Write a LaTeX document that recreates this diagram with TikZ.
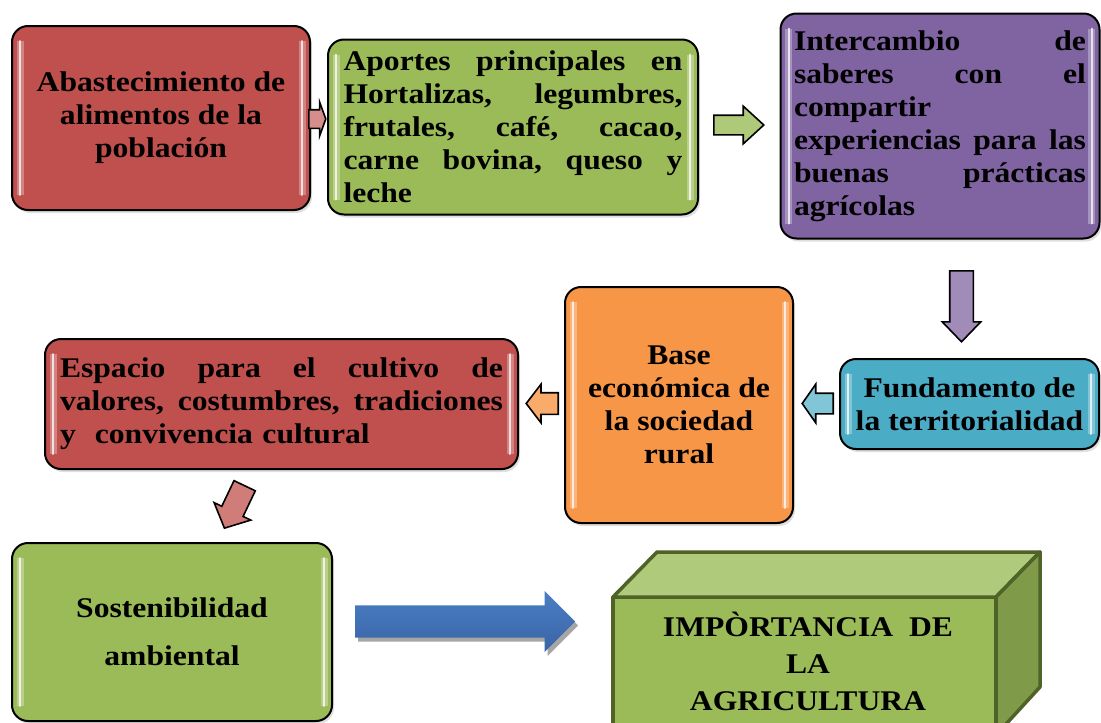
\documentclass[tikz,border=0pt]{standalone}
\usepackage{fontspec}
\setmainfont{Liberation Serif}[FakeStretch=1.11]
\usetikzlibrary{shapes.arrows,shadows}
\definecolor{cred}{HTML}{C0504D}
\definecolor{cgreen}{HTML}{9BBB59}
\definecolor{cpurple}{HTML}{8064A2}
\definecolor{ccyan}{HTML}{4BACC6}
\definecolor{corange}{HTML}{F79646}
\definecolor{cblueA}{HTML}{4A7EC4}
\definecolor{cblueB}{HTML}{3A64A6}
\definecolor{boxedge}{HTML}{4F6228}
\definecolor{boxtop}{HTML}{AECA7A}
\definecolor{boxside}{HTML}{7F9A48}
\tikzset{
  txt/.style={font=\bfseries\fontsize{28.5}{33}\selectfont},
  box/.style={draw=black, line width=2pt, rounded corners=16pt, inner sep=0pt, txt,
    drop shadow={opacity=0.25,shadow xshift=2pt,shadow yshift=-3pt}},
  blockarrow/.style={single arrow, draw=black, line width=1.6pt, inner xsep=0pt,
    single arrow head indent=0pt, anchor=tail},
}
\newcommand\boxgloss[1]{%
  \draw[white,opacity=.3,line width=7pt] ([xshift=9pt,yshift=-16pt]#1.north west) -- ([xshift=9pt,yshift=16pt]#1.south west);
  \draw[white,opacity=.3,line width=7pt] ([xshift=-9pt,yshift=-16pt]#1.north east) -- ([xshift=-9pt,yshift=16pt]#1.south east);
  \draw[white,opacity=.75,line width=2pt,line cap=round] ([xshift=9pt,yshift=-16pt]#1.north west) -- ([xshift=9pt,yshift=16pt]#1.south west);
  \draw[white,opacity=.75,line width=2pt,line cap=round] ([xshift=-9pt,yshift=-16pt]#1.north east) -- ([xshift=-9pt,yshift=16pt]#1.south east);
}
\begin{document}
\begin{tikzpicture}[x=1pt,y=-1pt]
\useasboundingbox (0,0) rectangle (1101,723);
\clip (0,0) rectangle (1101,723);
\fill[white] (0,0) rectangle (1101,723);

% boxes
\node[box, fill=cred, minimum width=298pt, minimum height=184pt, align=center] (b1) at (161,118)
  {Abastecimiento de\\alimentos de la\\población};
\node[box, fill=cgreen, minimum width=370pt, minimum height=175pt, text width=339pt, align=left] (b2) at (513,127)
  {Aportes\hfill principales\hfill en\\
   Hortalizas,\hfill legumbres,\\
   frutales,\hfill café,\hfill cacao,\\
   carne\hfill bovina,\hfill queso\hfill y\\
   leche};
\node[box, fill=cpurple, minimum width=319pt, minimum height=225pt, text width=292pt, align=left] (b3) at (940,126)
  {Intercambio\hfill de\\
   saberes\hfill con\hfill el\\
   compartir\\
   experiencias\hfill para\hfill las\\
   buenas\hfill prácticas\\
   agrícolas};
\node[box, fill=ccyan, minimum width=259pt, minimum height=90pt, align=center] (b4) at (969.5,404)
  {Fundamento de\\la territorialidad};
\node[box, fill=corange, minimum width=228pt, minimum height=236pt, align=center] (b5) at (679,405)
  {Base\\económica de\\la sociedad\\rural};
\node[box, fill=cred, minimum width=473pt, minimum height=130pt, text width=443pt, align=left] (b6) at (281.5,404)
  {Espacio\hfill para\hfill el\hfill cultivo\hfill de\\
   valores,\hfill costumbres,\hfill tradiciones\\
   y\ \ convivencia cultural};
\node[box, fill=cgreen, minimum width=320pt, minimum height=178pt, align=center,
  font=\bfseries\fontsize{28.5}{48}\selectfont] (b7) at (172,632)
  {Sostenibilidad\\ambiental};
\foreach \b in {b1,b2,b3,b4,b5,b6,b7}{\boxgloss{\b}}

% block arrows between boxes
\node[blockarrow, fill=cred!65!white, minimum height=17pt, inner ysep=8.5pt,
  single arrow head extend=7.5pt, single arrow tip angle=140] (a1) at (308,119) {};
\node[blockarrow, fill=cgreen!80!white, minimum height=50pt, inner ysep=9pt,
  single arrow head extend=9pt, single arrow tip angle=85] (a2) at (713,125) {};
\node[blockarrow, fill=cpurple!75!white, minimum height=71pt, inner ysep=11pt,
  single arrow head extend=7.5pt, single arrow tip angle=88, rotate=-90] (a3) at (961.5,270) {};
\node[blockarrow, fill=ccyan!70!white, minimum height=31pt, inner ysep=9.5pt,
  single arrow head extend=9pt, single arrow tip angle=110, rotate=180] (a4) at (834,403.5) {};
\node[blockarrow, fill=corange!80!white, minimum height=32pt, inner ysep=10pt,
  single arrow head extend=8.5pt, single arrow tip angle=105, rotate=180] (a5) at (559,403.5) {};
\node[blockarrow, fill=cred!75!white, minimum height=47pt, inner ysep=11pt,
  single arrow head extend=8.5pt, single arrow tip angle=95, rotate=-115.5] (a6) at (245,485) {};

% big blue arrow
\node[single arrow, anchor=tail, inner xsep=0pt, inner ysep=16pt, single arrow head indent=0pt, minimum height=220pt,
  single arrow head extend=14.5pt, single arrow tip angle=90,
  top color=cblueA, bottom color=cblueB,
  drop shadow={shadow xshift=3pt, shadow yshift=-4pt, fill=black!35, opacity=1}] (a7) at (355,621.5) {};

% 3D box
\filldraw[fill=cgreen, draw=boxedge, line width=3.5pt, line join=round]
  (613,597) -- (996,597) -- (996,735) -- (613,735) -- cycle;
\filldraw[fill=boxtop, draw=boxedge, line width=3.5pt, line join=round]
  (613,597) -- (657,552) -- (1040,552) -- (996,597) -- cycle;
\filldraw[fill=boxside, draw=boxedge, line width=3.5pt, line join=round]
  (996,597) -- (1040,552) -- (1040,687) -- (996,735) -- cycle;
\node[align=center, font=\bfseries\fontsize{28.5}{37}\selectfont] (imp) at (808,661)
  {IMPÒRTANCIA\ \ DE\\LA\\AGRICULTURA};
\end{tikzpicture}
\end{document}
